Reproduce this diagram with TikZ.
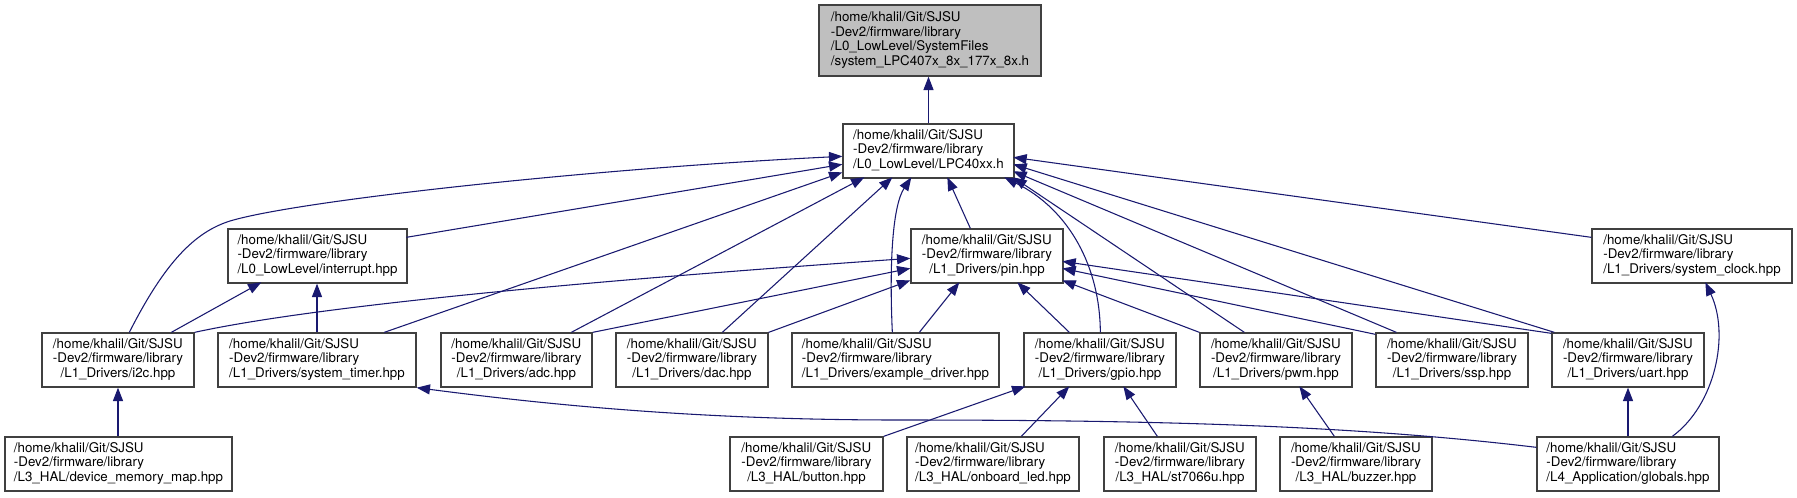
\documentclass[tikz,border=0pt]{standalone}
\usepackage{fontspec}
\setmainfont{TeX Gyre Heros}
\usetikzlibrary{arrows.meta,calc}
\definecolor{edgecol}{HTML}{191970}
\definecolor{boxcol}{HTML}{404040}
\definecolor{topfill}{HTML}{BFBFBF}
\tikzset{
  fbx/.style={draw=boxcol, line width=1pt, fill=white, rectangle, inner sep=0pt,
    font=\fontsize{10pt}{10.9pt}\selectfont},
  edge/.style={draw=edgecol, line width=0.8pt, -{Triangle[length=10pt,width=7.5pt]}},
}
\newcommand\filebox[6]{\node[fbx, minimum width={(#4-#2)*0.75pt}, minimum height={(#5-#3)*0.75pt}] (#1) at ({(#2+#4)/2},{(#3+#5)/2}) {\begin{tabular}{@{}l@{}}/home/khalil/Git/SJSU\\-Dev2/firmware/library\\\multicolumn{1}{@{}c@{}}{#6}\end{tabular}};}
\begin{document}
\begin{tikzpicture}[x=0.75pt,y=-0.75pt]
\useasboundingbox (0,0) rectangle (1797,497);
\fill[white] (0,0) rectangle (1797,497);
% nodes
\node[fbx, fill=topfill, minimum width={222*0.75pt}, minimum height={71*0.75pt}] (top) at (930,40.5)
  {\begin{tabular}{@{}l@{}}/home/khalil/Git/SJSU\\-Dev2/firmware/library\\/L0\_LowLevel/SystemFiles\\/system\_LPC407x\_8x\_177x\_8x.h\end{tabular}};
\filebox{lpc}{843}{124}{1014}{178}{/L0\_LowLevel/LPC40xx.h}
\filebox{intr}{228}{229}{407}{283}{/L0\_LowLevel/interrupt.hpp}
\filebox{pin}{911}{229}{1063}{283}{/L1\_Drivers/pin.hpp}
\filebox{sysclk}{1592}{229}{1792}{283}{/L1\_Drivers/system\_clock.hpp}
\filebox{i2c}{42}{333}{194}{387}{/L1\_Drivers/i2c.hpp}
\filebox{systimer}{218}{333}{416}{387}{/L1\_Drivers/system\_timer.hpp}
\filebox{adc}{441}{333}{592}{387}{/L1\_Drivers/adc.hpp}
\filebox{dac}{616}{333}{768}{387}{/L1\_Drivers/dac.hpp}
\filebox{example}{792}{333}{999}{387}{/L1\_Drivers/example\_driver.hpp}
\filebox{gpio}{1024}{333}{1176}{387}{/L1\_Drivers/gpio.hpp}
\filebox{pwm}{1200}{333}{1352}{387}{/L1\_Drivers/pwm.hpp}
\filebox{ssp}{1376}{333}{1528}{387}{/L1\_Drivers/ssp.hpp}
\filebox{uart}{1552}{333}{1704}{387}{/L1\_Drivers/uart.hpp}
\filebox{dmm}{5}{437}{232}{491}{/L3\_HAL/device\_memory\_map.hpp}
\filebox{button}{730}{437}{883}{491}{/L3\_HAL/button.hpp}
\filebox{led}{907}{437}{1079}{491}{/L3\_HAL/onboard\_led.hpp}
\filebox{st}{1104}{437}{1256}{491}{/L3\_HAL/st7066u.hpp}
\filebox{buzzer}{1280}{437}{1432}{491}{/L3\_HAL/buzzer.hpp}
\filebox{globals}{1537}{437}{1719}{491}{/L4\_Application/globals.hpp}
% edges to top
\draw[edge] (lpc.north) -- (lpc.north |- top.south);
% edges to LPC40xx.h
\draw[edge] ($(i2c.north west)+(88,0)$) .. controls (165,262) and (195,232) .. (230,221) .. controls (300,200) and (600,168) .. ($(lpc.north west)+(0,33)$);
\draw[edge] ($(intr.north west)+(179,9)$) -- ($(lpc.north west)+(0,41)$);
\draw[edge] ($(systimer.north west)+(167,0)$) -- ($(lpc.north west)+(0,49)$);
\draw[edge] ($(adc.north west)+(131,0)$) -- ($(lpc.north west)+(22,54)$);
\draw[edge] ($(dac.north west)+(107,0)$) -- ($(lpc.north west)+(50,54)$);
\draw[edge] ($(example.north west)+(101,0)$) .. controls (889,260) and (893,205) .. ($(lpc.north west)+(69,54)$);
\draw[edge] ($(pin.north west)+(60,0)$) -- ($(lpc.north west)+(105,54)$);
\draw[edge] ($(gpio.north west)+(77,0)$) .. controls (1100,268) and (1070,210) .. ($(lpc.north west)+(162,54)$);
\draw[edge] ($(pwm.north west)+(45,0)$) -- ($(lpc.north west)+(171,54)$);
\draw[edge] ($(ssp.north west)+(21,0)$) -- ($(lpc.north west)+(171,48)$);
\draw[edge] ($(uart.north west)+(3,0)$) -- ($(lpc.north west)+(171,41)$);
\draw[edge] ($(sysclk.north west)+(0,9)$) -- ($(lpc.north west)+(171,34)$);
% edges to pin.hpp
\draw[edge] (i2c.north east) .. controls (320,305) and (600,280) .. ($(pin.north west)+(0,30)$);
\draw[edge] (adc.north east) -- ($(pin.north west)+(0,40)$);
\draw[edge] (dac.north east) -- ($(pin.north west)+(0,52)$);
\draw[edge] ($(example.north west)+(128,0)$) -- ($(pin.north west)+(49,54)$);
\draw[edge] ($(gpio.north west)+(46,0)$) -- ($(pin.north west)+(107,54)$);
\draw[edge] (pwm.north west) -- ($(pin.north west)+(152,52)$);
\draw[edge] ($(ssp.north west)+(0,2)$) -- ($(pin.north west)+(152,40)$);
\draw[edge] ($(uart.north west)+(0,1)$) -- ($(pin.north west)+(152,33)$);
% edges to interrupt.hpp
\draw[edge] ($(i2c.north west)+(130,0)$) -- ($(intr.north west)+(34,54)$);
\draw[edge] (systimer.north) -- (systimer.north |- intr.south);
% lower edges
\draw[edge] (button.north east) -- ($(gpio.north west)+(2,54)$);
\draw[edge] ($(led.north west)+(115,0)$) -- ($(gpio.north west)+(46,54)$);
\draw[edge] ($(st.north west)+(54,0)$) -- ($(gpio.north west)+(100,54)$);
\draw[edge] ($(buzzer.north west)+(55,0)$) -- ($(pwm.north west)+(100,54)$);
\draw[edge] (globals.north) -- (globals.north |- uart.south);
\draw[edge] ($(globals.north west)+(136,0)$) .. controls (1715,405) and (1730,335) .. ($(sysclk.north west)+(114,54)$);
\draw[edge] ($(globals.north west)+(0,11)$) .. controls (1350,425) and (1150,420) .. (900,420) .. controls (700,420) and (550,405) .. (systimer.south east);
\draw[edge] (i2c.south |- dmm.north) -- (i2c.south);
\end{tikzpicture}
\end{document}
